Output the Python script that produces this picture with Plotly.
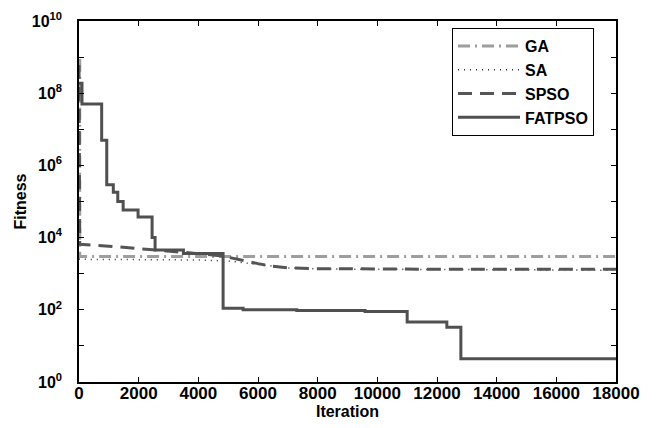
import plotly.graph_objects as go

# ---- data ----
ga_iter = [0, 25, 18000]
ga_fit = [8e8, 3000, 3000]

sa_iter = [0, 25, 2000, 4000, 5000, 6000, 7000, 8000, 12000, 18000]
sa_fit = [2.6e3, 2500, 2450, 2400, 2250, 1800, 1450, 1350, 1300, 1250]

spso_iter = [0, 25, 1000, 2000, 3000, 4000, 4800, 5500, 6000, 6500, 7000, 8000, 12000, 18000]
spso_fit = [6e8, 6500, 5800, 5000, 4200, 3600, 3100, 2300, 1900, 1600, 1450, 1380, 1330, 1320]

fat_iter = [0, 100, 760, 930, 1150, 1300, 1480, 1980, 2450, 2550, 3500, 4830,
            5500, 7300, 9590, 11000, 12330, 12800, 18000]
fat_fit = [1.9e8, 5e7, 5e6, 2.9e5, 1.8e5, 1e5, 5.8e4, 3.7e4, 1e4, 4.5e3, 3.6e3, 110,
           100, 96, 90, 46, 33, 4.4, 4.4]

x_ticks = [0, 2000, 4000, 6000, 8000, 10000, 12000, 14000, 16000, 18000]
y_major = [0, 2, 4, 6, 8, 10]
y_minor = [1, 3, 5, 7, 9]
y_ticktext = [f"10<sup>{d}</sup>" for d in y_major]

font_family = "Liberation Sans, Arial, Helvetica, sans-serif"

# the page body has an 8px margin, so the figure is drawn from (8, 8)
OFF = 8
W, H = 660 - OFF, 428 - OFF
plot_l, plot_r, plot_t, plot_b = 79, 616, 21, 382

fig = go.Figure()
fig.add_trace(go.Scatter(x=ga_iter, y=ga_fit, name="GA", mode="lines", line_shape="hv",
                         line=dict(color="#9e9e9e", width=3, dash="12px,5px,2px,5px")))
fig.add_trace(go.Scatter(x=sa_iter, y=sa_fit, name="SA", mode="lines",
                         line=dict(color="#2a2a2a", width=1.5, dash="1px,5px")))
fig.add_trace(go.Scatter(x=spso_iter, y=spso_fit, name="SPSO", mode="lines",
                         line=dict(color="#555555", width=3, dash="14px,8px")))
fig.add_trace(go.Scatter(x=fat_iter, y=fat_fit, name="FATPSO", mode="lines", line_shape="hv",
                         line=dict(color="#505050", width=3)))

axis_common = dict(showline=True, linecolor="black", linewidth=1.5, mirror="ticks",
                   ticks="inside", ticklen=5, tickcolor="black", showgrid=False,
                   zeroline=False, automargin=False)

fig.update_xaxes(range=[0, 18000], tickvals=x_ticks, ticktext=[str(v) for v in x_ticks],
                 tickfont=dict(family=font_family, size=17, color="black", weight="bold"),
                 ticklabelstandoff=-5,
                 title=dict(text="<b>Iteration</b>", standoff=0,
                            font=dict(family=font_family, size=16, color="black")),
                 **axis_common)
fig.update_yaxes(type="log", range=[0, 10], tickvals=[10 ** d for d in y_major],
                 ticktext=y_ticktext,
                 tickfont=dict(family=font_family, size=16, color="black", weight="bold"),
                 ticklabelstandoff=12,
                 minor=dict(tickvals=[10 ** d for d in y_minor], ticks="inside", ticklen=5,
                            tickcolor="black", showgrid=False),
                 title=dict(text="<b>Fitness</b>", standoff=1,
                            font=dict(family=font_family, size=16, color="black")),
                 **axis_common)

fig.update_layout(
    width=W, height=H,
    margin=dict(l=plot_l - OFF, r=660 - plot_r, t=plot_t - OFF, b=428 - plot_b),
    paper_bgcolor="white", plot_bgcolor="white",
    font=dict(family=font_family, size=15, color="black"),
    legend=dict(x=(452 - plot_l) / (plot_r - plot_l),
                y=1 - (28 - plot_t) / (plot_b - plot_t), xanchor="left", yanchor="top",
                bgcolor="white", bordercolor="black", borderwidth=1,
                font=dict(family=font_family, size=16, color="black", weight="bold"),
                itemwidth=62, tracegroupgap=0),
    showlegend=True,
)

fig.write_html("out.html")
